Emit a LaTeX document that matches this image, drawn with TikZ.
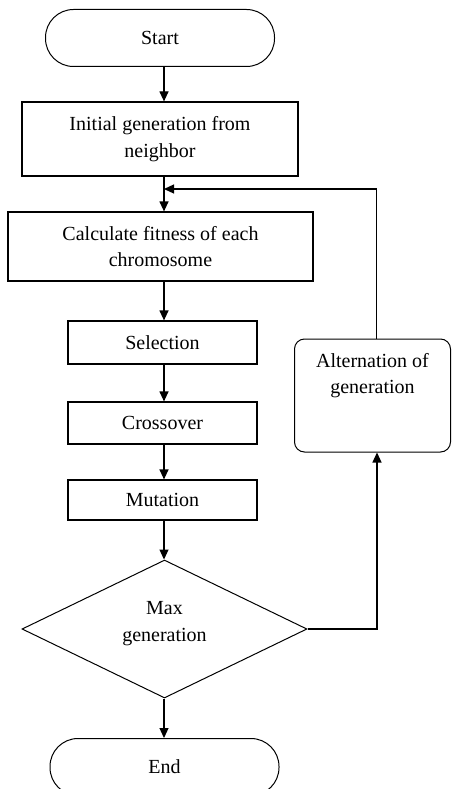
\documentclass[tikz,border=0pt]{standalone}
\usepackage{fontspec}
\setmainfont{Liberation Serif}
\usetikzlibrary{arrows.meta,shapes.geometric}
\begin{document}
\begin{tikzpicture}[x=1pt,y=-1pt,
  every node/.style={font=\fontsize{20}{26.5}\selectfont, align=center, inner sep=0pt},
  box/.style={draw, line width=1.2pt, rectangle},
  term/.style={draw, line width=1pt, rectangle, rounded corners=28pt, minimum width=229pt, minimum height=57pt},
  altbox/.style={draw, line width=1pt, rectangle, rounded corners=10pt, minimum width=156pt, minimum height=113pt},
  decision/.style={draw, line width=1pt, diamond, minimum width=285pt, minimum height=138pt},
  arr/.style={line width=1.2pt, -{Triangle[length=10pt,width=9pt]}},
  ln/.style={line width=1.2pt}]
\useasboundingbox (0,0) rectangle (451,789);
\fill[white] (0,0) rectangle (451,789);
\begin{scope}
\clip (0,0) rectangle (451,789);
\node[term] (start) at (160,38) {Start};
\node[box, minimum width=276pt, minimum height=74pt] (init) at (160,139) {Initial generation from\\neighbor};
\node[box, minimum width=305pt, minimum height=69pt] (calc) at (160.5,246.5) {Calculate fitness of each\\chromosome};
\node[box, minimum width=189pt, minimum height=43pt] (sel) at (162.5,342.5) {Selection};
\node[box, minimum width=189pt, minimum height=42pt] (cross) at (162.5,423) {Crossover};
\node[box, minimum width=189pt, minimum height=40pt] (mut) at (162.5,500) {Mutation};
\node[decision] (dia) at (164.5,629) {};
\node at (164.5,623.5) {Max\\generation};
\node[term] (end) at (164.5,767) {End};
\node[altbox] (alt) at (372.5,395.5) {};
\node at (372.5,375.5) {Alternation of\\generation};
\end{scope}
\coordinate (axis) at (164,0);
\coordinate (join) at (164,189);
\draw[arr] (start.south -| axis) -- (init.north -| axis);
\draw[arr] (init.south -| axis) -- (calc.north -| axis);
\draw[arr] (calc.south -| axis) -- (sel.north -| axis);
\draw[arr] (sel.south -| axis) -- (cross.north -| axis);
\draw[arr] (cross.south -| axis) -- (mut.north -| axis);
\draw[arr] (mut.south -| axis) -- (dia.north -| axis);
\draw[arr] (dia.south -| axis) -- (end.north -| axis);
\draw[arr] ([xshift=4pt]alt.north) |- (join);
\draw[arr] (dia.east) -| ([xshift=4.5pt]alt.south);
\end{tikzpicture}
\end{document}
